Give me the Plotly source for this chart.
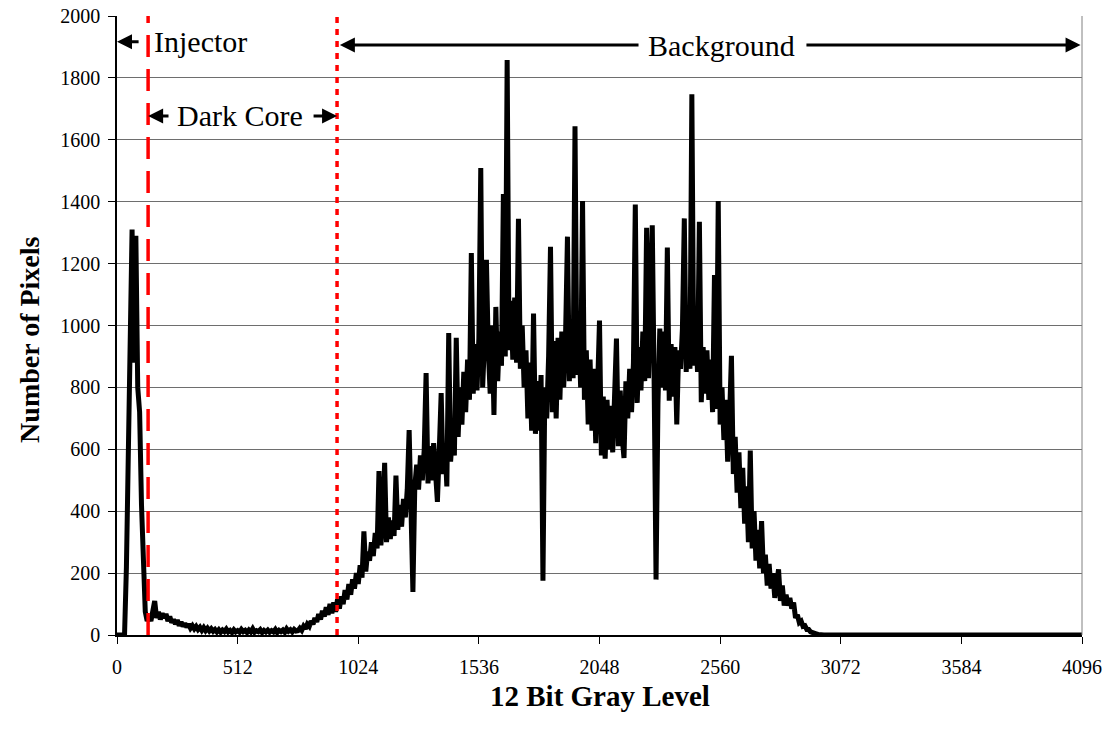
import plotly.graph_objects as go

# ---- data (12-bit gray level histogram) ----
gray_main = list(range(0, 3000, 8))
count_main = [
    0, 0, 0, 0, 0, 220, 600, 1000, 1310, 880,
    1290, 800, 720, 420, 180, 75, 45, 60, 45, 70,
    110, 55, 75, 50, 70, 55, 68, 45, 60, 40,
    50, 35, 48, 30, 42, 28, 38, 25, 35, 22,
    30, 20, 28, 18, 25, 15, 24, 14, 22, 13,
    20, 12, 18, 10, 17, 9, 16, 11, 19, 10,
    15, 8, 17, 10, 14, 9, 18, 11, 15, 8,
    16, 10, 20, 9, 14, 11, 17, 8, 15, 10,
    16, 9, 14, 10, 18, 8, 15, 11, 16, 9,
    20, 12, 17, 10, 18, 13, 14, 22, 15, 28,
    20, 35, 28, 45, 35, 55, 42, 68, 50, 78,
    60, 90, 65, 100, 70, 105, 75, 115, 85, 125,
    100, 145, 115, 165, 130, 180, 150, 200, 165, 225,
    185, 335, 205, 270, 240, 300, 255, 330, 280, 530,
    290, 370, 556, 300, 380, 310, 370, 320, 515, 340,
    420, 350, 440, 380, 470, 662, 420, 139, 480, 550,
    470, 580, 500, 600, 846, 490, 610, 500, 620, 480,
    430, 600, 782, 520, 620, 480, 976, 560, 650, 580,
    960, 640, 800, 680, 850, 720, 890, 760, 1234, 780,
    940, 790, 960, 1509, 800, 950, 1212, 920, 780, 1000,
    711, 1060, 820, 980, 870, 1425, 900, 1858, 920, 1080,
    890, 1090, 880, 1345, 860, 1000, 800, 920, 700, 880,
    660, 1039, 650, 820, 660, 840, 175, 800, 700, 900,
    1254, 720, 950, 700, 960, 760, 980, 800, 970, 1287,
    820, 1000, 830, 1644, 840, 990, 800, 1402, 760, 920,
    680, 890, 660, 860, 620, 800, 1016, 580, 770, 570,
    760, 600, 740, 590, 770, 958, 610, 790, 640, 572,
    820, 700, 860, 720, 880, 1391, 750, 930, 790, 980,
    820, 1316, 830, 1030, 1324, 810, 179, 745, 990, 800,
    980, 790, 1252, 757, 940, 770, 930, 680, 920, 860,
    990, 1346, 850, 1000, 860, 1747, 870, 1010, 850, 1335,
    752, 930, 780, 920, 760, 890, 720, 1163, 730, 1402,
    680, 800, 630, 760, 560, 700, 902, 520, 640, 460,
    590, 410, 540, 360, 480, 300, 596, 280, 400, 240,
    340, 215, 368, 200, 260, 160, 230, 150, 200, 120,
    180, 212, 110, 160, 95, 130, 95, 120, 85, 105,
    55, 65, 40, 45, 28, 30, 18, 18, 10, 9,
    5, 4, 2, 1, 0,
]
gray_tail = [3000, 3072, 3584, 4096]
count_tail = [0, 0, 0, 0]

gray_level = gray_main + gray_tail
pixel_count = count_main + count_tail

x_ticks = [0, 512, 1024, 1536, 2048, 2560, 3072, 3584, 4096]
y_ticks = list(range(0, 2001, 200))

injector_edge = 132
dark_core_edge = 934

FONT = "Times New Roman"

fig = go.Figure()
fig.add_trace(go.Scatter(x=gray_level, y=pixel_count, mode="lines",
                         line=dict(color="black", width=5), showlegend=False,
                         hoverinfo="skip"))

# vertical region boundaries
fig.add_shape(type="line", x0=injector_edge, x1=injector_edge, y0=0, y1=2000,
              xref="x", yref="y", line=dict(color="#ff0000", width=3.5, dash="22px,12px"))
fig.add_shape(type="line", x0=dark_core_edge, x1=dark_core_edge, y0=0, y1=2000,
              xref="x", yref="y", line=dict(color="#ff0000", width=3.5, dash="6px,6px"))
# right border of plot area
fig.add_shape(type="line", x0=1, x1=1, y0=0, y1=1, xref="paper", yref="paper",
              line=dict(color="#808080", width=1))

def arrow(x_head, x_tail, y):
    fig.add_annotation(x=x_head, y=y, ax=x_tail, ay=y, xref="x", yref="y",
                       axref="x", ayref="y", text="", showarrow=True,
                       arrowhead=2, arrowsize=1.0, arrowwidth=3, arrowcolor="black")

def label(x, y, text, anchor="center"):
    fig.add_annotation(x=x, y=y, xref="x", yref="y", text=text, showarrow=False,
                       xanchor=anchor, yanchor="middle",
                       font=dict(family=FONT, size=30, color="black"))

y_inj = 1917
arrow(0, 98, y_inj)
label(147, y_inj, "Injector", "left")

y_dc = 1677
arrow(injector_edge, 225, y_dc)
label(524, y_dc, "Dark Core")
arrow(dark_core_edge, 828, y_dc)

y_bg = 1906
arrow(dark_core_edge + 12, 2220, y_bg)
label(2564, y_bg, "Background")
arrow(4090, 2920, y_bg)

# axis titles
fig.add_annotation(x=0.5, y=-0.099, xref="paper", yref="paper",
                   text="<b>12 Bit Gray Level</b>", showarrow=False,
                   xanchor="center", yanchor="middle",
                   font=dict(family=FONT, size=29, color="black"))
fig.add_annotation(x=-0.090, y=0.477, xref="paper", yref="paper",
                   text="<b>Number of Pixels</b>", showarrow=False, textangle=-90,
                   xanchor="center", yanchor="middle",
                   font=dict(family=FONT, size=28, color="black"))

fig.update_layout(
    width=1112, height=734,
    margin=dict(l=117, r=30, t=16, b=99, autoexpand=False),
    paper_bgcolor="white", plot_bgcolor="white",
    font=dict(family=FONT, size=20, color="black"),
    xaxis=dict(range=[0, 4096], tickvals=x_ticks, ticktext=[str(v) for v in x_ticks],
               showgrid=False, zeroline=False, showline=True, linecolor="black",
               linewidth=1.5, ticks="outside", ticklen=7, tickcolor="black",
               ticklabelstandoff=6, automargin=False,
               tickfont=dict(family=FONT, size=20)),
    yaxis=dict(range=[0, 2000], tickvals=y_ticks, showgrid=True, gridcolor="#6e6e6e",
               gridwidth=1, zeroline=False, showline=True, linecolor="black",
               linewidth=1.5, ticks="outside", ticklen=7, tickcolor="black",
               ticklabelstandoff=4, automargin=False,
               tickfont=dict(family=FONT, size=20)),
)

fig.write_html("out.html")
